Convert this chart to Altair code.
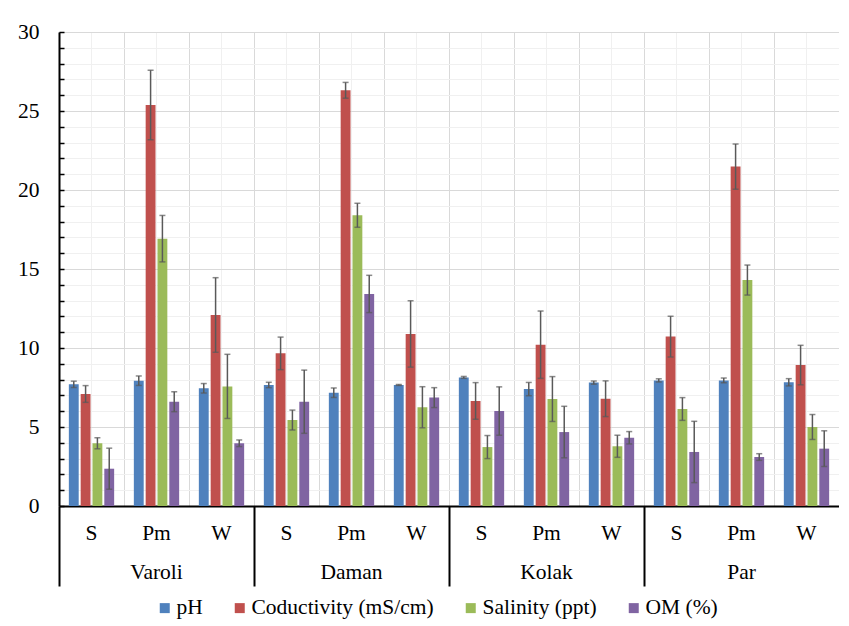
import altair as alt
import pandas as pd

# ---- data ----
sites = ["Varoli", "Daman", "Kolak", "Par"]
samples = ["S", "Pm", "W"]
params = ["pH", "Coductivity (mS/cm)", "Salinity (ppt)", "OM (%)"]
colors = ["#4F81BD", "#C0504D", "#9BBB59", "#8064A2"]

# order: Varoli S/Pm/W, Daman S/Pm/W, Kolak S/Pm/W, Par S/Pm/W
ph = [7.70, 7.93, 7.45, 7.66, 7.17, 7.66, 8.14, 7.40, 7.81, 7.95, 7.95, 7.83]
ph_err = [0.20, 0.30, 0.30, 0.17, 0.30, 0.03, 0.06, 0.42, 0.10, 0.10, 0.15, 0.23]
cond = [7.09, 25.38, 12.09, 9.66, 26.31, 10.89, 6.65, 10.21, 6.79, 10.72, 21.48, 8.92]
cond_err = [0.53, 2.20, 2.36, 1.03, 0.50, 2.10, 1.16, 2.13, 1.13, 1.29, 1.43, 1.25]
sal = [3.97, 16.92, 7.57, 5.44, 18.40, 6.25, 3.73, 6.77, 3.78, 6.14, 14.30, 5.00]
sal_err = [0.35, 1.47, 2.03, 0.63, 0.76, 1.30, 0.73, 1.42, 0.70, 0.72, 0.95, 0.79]
om = [2.36, 6.60, 3.97, 6.60, 13.42, 6.86, 6.01, 4.68, 4.32, 3.42, 3.10, 3.63]
om_err = [1.30, 0.63, 0.21, 2.00, 1.18, 0.63, 1.53, 1.63, 0.39, 1.94, 0.21, 1.13]

y_major = [0, 5, 10, 15, 20, 25, 30]
y_minor = [i for i in range(31) if i % 5]

values = [ph, cond, sal, om]
errors = [ph_err, cond_err, sal_err, om_err]
keys = [f"{s}|{t}" for s in sites for t in samples]
group_starts = [f"{s}|{samples[0]}" for s in sites]

rows, cap_rows = [], []
for p, vals, errs in zip(params, values, errors):
    for k, v, e in zip(keys, vals, errs):
        rows.append({"key": k, "param": p, "value": v, "lo": v - e, "hi": v + e})
        cap_rows.append({"key": k, "param": p, "end": v - e})
        cap_rows.append({"key": k, "param": p, "end": v + e})
df = pd.DataFrame(rows)
cdf = pd.DataFrame(cap_rows)

FONT = "Liberation Serif"
FS = 21.5
W = 780
STEP = W / len(keys)

x_scale = alt.Scale(domain=keys, paddingInner=0, paddingOuter=0)
xo_scale = alt.Scale(domain=params, paddingInner=1 / 6, paddingOuter=0.833)
y_scale = alt.Scale(domain=[0, 30], nice=False, zero=True)
xo = alt.XOffset("param:N", scale=xo_scale, sort=params)

bars = alt.Chart(df).mark_bar().encode(
    x=alt.X("key:N", scale=x_scale, sort=keys, title=None,
            axis=alt.Axis(orient="bottom", labelExpr="split(datum.label, '|')[1]",
                          ticks=False, labelPadding=16, labelAngle=0,
                          domain=True, domainColor="black", domainWidth=2,
                          grid=True, gridColor="#f0f0f0", gridWidth=1,
                          labelFont=FONT, labelFontSize=FS, labelColor="black")),
    xOffset=xo,
    y=alt.Y("value:Q", scale=y_scale, title=None,
            axis=alt.Axis(orient="left", values=y_major, ticks=False, labelPadding=20,
                          domain=True, domainColor="black", domainWidth=2,
                          grid=True, gridColor="#d9d9d9", gridWidth=1,
                          labelFont=FONT, labelFontSize=FS, labelColor="black")),
    color=alt.Color("param:N", sort=params, scale=alt.Scale(domain=params, range=colors),
                    legend=alt.Legend(orient="none", legendX=95, legendY=565,
                                      direction="horizontal", title=None,
                                      symbolType="square", symbolSize=100,
                                      symbolStrokeWidth=0, labelFont=FONT,
                                      labelFontSize=FS, labelColor="black",
                                      labelLimit=0,
                                      columnPadding=26, labelOffset=1, padding=0)),
)

rules = alt.Chart(df).mark_rule(color="#595959", strokeWidth=1.5).encode(
    x=alt.X("key:N", scale=x_scale, sort=keys, title=None,
            axis=alt.Axis(orient="bottom", tickBand="extent", ticks=False, labels=False,
                          domain=False, grid=True, gridColor="#d9d9d9", gridWidth=1)),
    xOffset=xo,
    y=alt.Y("lo:Q", scale=y_scale, title=None,
            axis=alt.Axis(orient="left", values=y_minor, ticks=False, labels=False,
                          domain=False, grid=True, gridColor="#f0f0f0", gridWidth=1)),
    y2="hi:Q",
)

caps = alt.Chart(cdf).mark_tick(color="#595959", thickness=1.5, size=6, orient="horizontal").encode(
    x=alt.X("key:N", scale=x_scale, sort=keys, title=None,
            axis=alt.Axis(orient="bottom", values=group_starts, bandPosition=0,
                          tickSize=80, tickColor="black", tickWidth=2,
                          labelExpr="split(datum.label, '|')[0]", labelOffset=STEP,
                          labelPadding=-25, labelAngle=0, domain=False, grid=False,
                          labelFont=FONT, labelFontSize=FS, labelColor="black")),
    xOffset=xo,
    y=alt.Y("end:Q", scale=y_scale, title=None,
            axis=alt.Axis(orient="left", values=list(range(31)), tickSize=5, offset=-5,
                          tickColor="black", tickWidth=1.5, labels=False,
                          domain=False, grid=False)),
)

chart = alt.layer(bars, rules, caps).resolve_axis(
    x="independent", y="independent"
).properties(
    width=W, height=474,
    padding={"left": 9, "top": 13, "right": 0, "bottom": 0},
).configure_view(strokeWidth=0)

chart.save("out.html", embed_options={"renderer": "svg", "actions": False})
